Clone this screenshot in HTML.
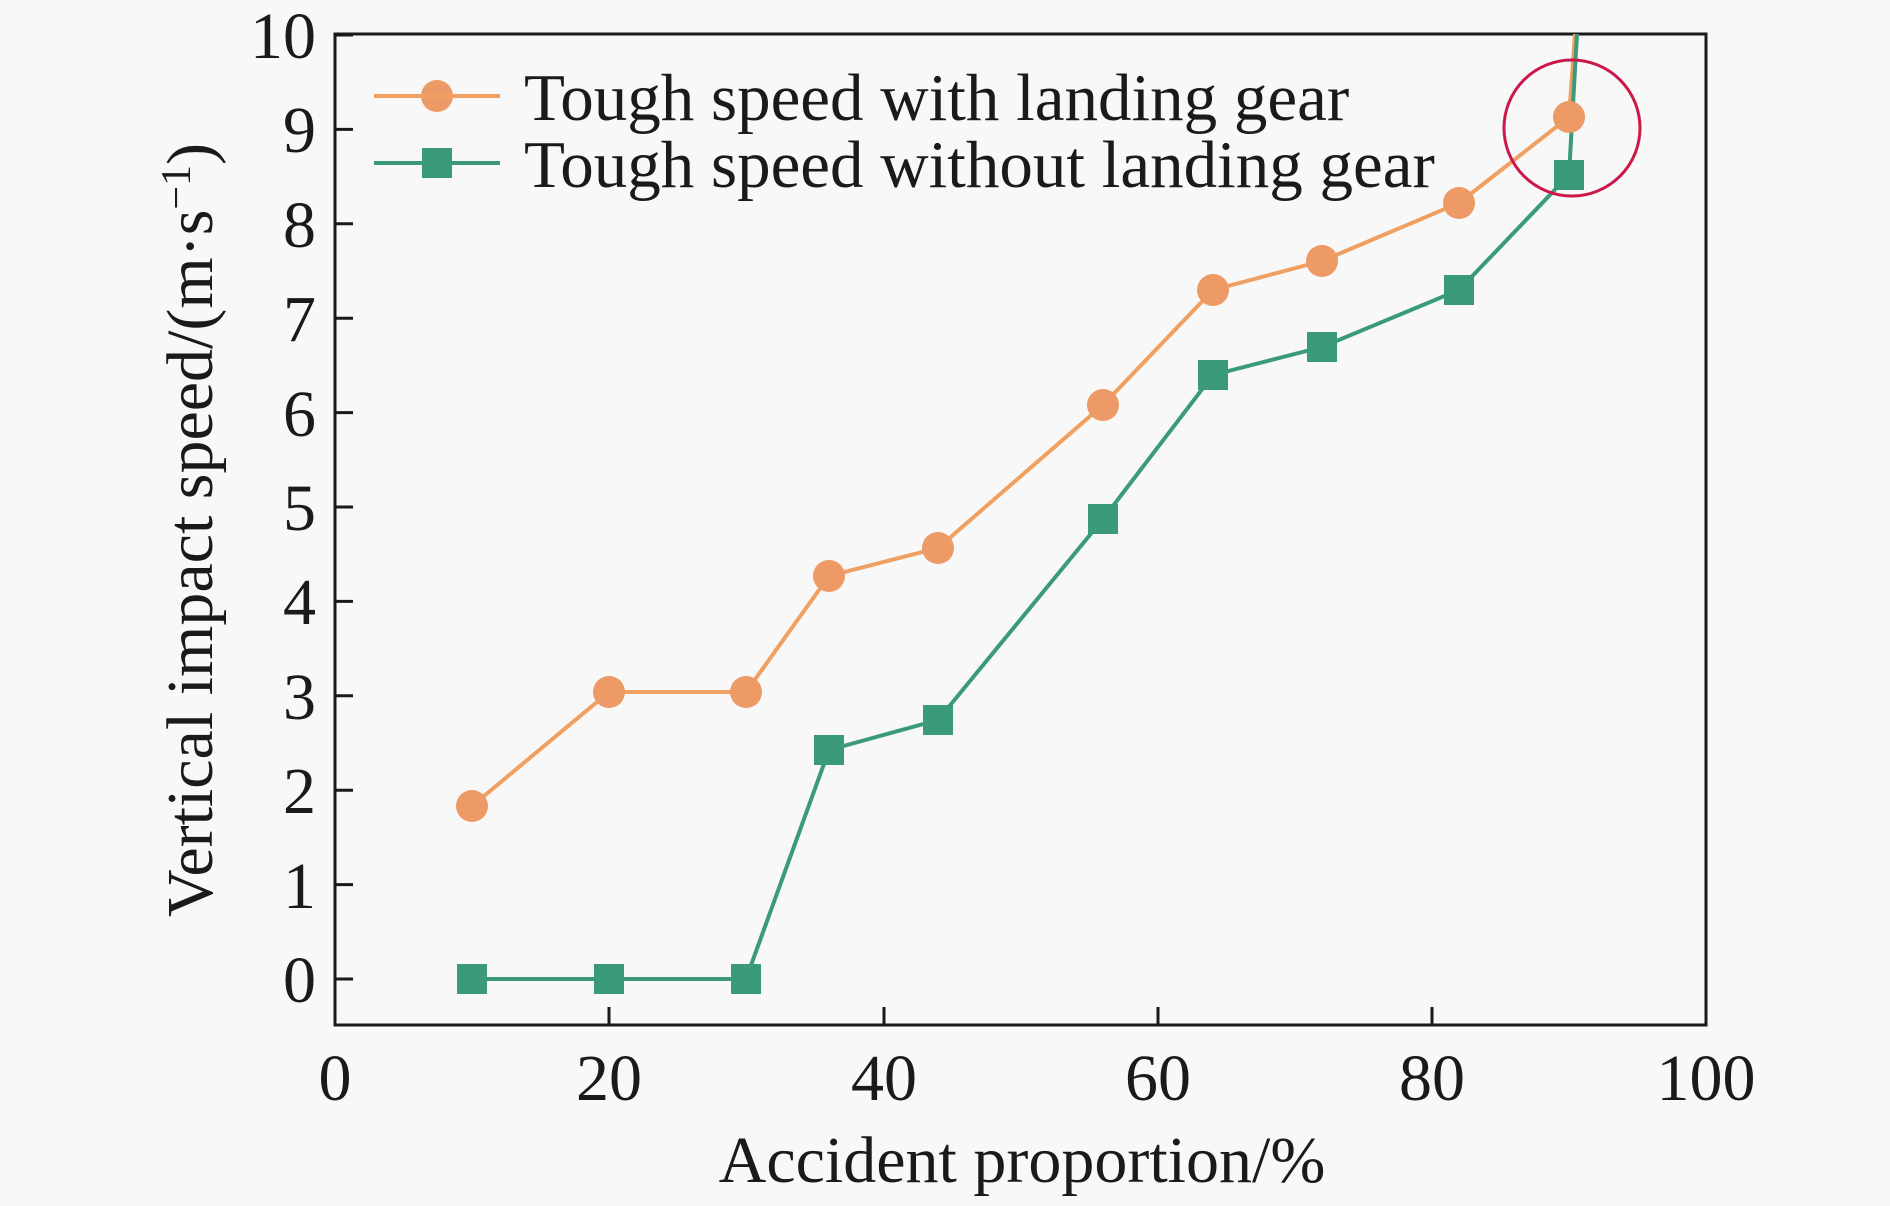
<!DOCTYPE html>
<html><head><style>body{margin:0;background:#f8f8f8}</style></head><body>
<svg width="1890" height="1201" xmlns="http://www.w3.org/2000/svg" font-family="Liberation Serif, serif">
<rect width="1890" height="1201" fill="#f8f8f8"/>
<g stroke="#1a1a1a" stroke-width="3" fill="none">
<rect x="335" y="34" width="1371" height="991"/>
<path d="M335 979h18M335 884.6h18M335 790.2h18M335 695.8h18M335 601.4h18M335 507h18M335 412.6h18M335 318.2h18M335 223.8h18M335 129.4h18M335 35h18"/>
<path d="M609 1025v-18M884 1025v-18M1158 1025v-18M1432 1025v-18"/>
</g>
<g font-size="66" fill="#1a1a1a" text-anchor="end">
<text x="316" y="1002">0</text><text x="316" y="908">1</text><text x="316" y="813">2</text><text x="316" y="719">3</text><text x="316" y="624">4</text><text x="316" y="530">5</text><text x="316" y="436">6</text><text x="316" y="341">7</text><text x="316" y="247">8</text><text x="316" y="152">9</text><text x="316" y="58">10</text>
</g>
<g font-size="66" fill="#1a1a1a" text-anchor="middle">
<text x="335" y="1100">0</text><text x="609" y="1100">20</text><text x="884" y="1100">40</text><text x="1158" y="1100">60</text><text x="1432" y="1100">80</text><text x="1706" y="1100">100</text>
<text x="1022" y="1182" font-size="66">Accident proportion/%</text>
<text transform="translate(212,530) rotate(-90)" font-size="66">Vertical impact speed/(m·s<tspan dy="-22" font-size="42">−1</tspan><tspan dy="22">)</tspan></text>
</g>
<polyline fill="none" stroke="#f0a060" stroke-width="4" points="472,806 609,692 746,692 829,576 938,548 1103,405 1213,290 1322,261 1459,203 1569,117 1575,34"/>
<polyline fill="none" stroke="#3a9a7a" stroke-width="4" points="472,979 609,979 746,979 829,750 938,720 1103,519 1213,375 1322,347 1459,290 1569,175 1577,34"/>
<g fill="#ee9a66">
<circle cx="472" cy="806" r="16"/><circle cx="609" cy="692" r="16"/><circle cx="746" cy="692" r="16"/><circle cx="829" cy="576" r="16"/><circle cx="938" cy="548" r="16"/><circle cx="1103" cy="405" r="16"/><circle cx="1213" cy="290" r="16"/><circle cx="1322" cy="261" r="16"/><circle cx="1459" cy="203" r="16"/><circle cx="1569" cy="117" r="16"/>
<circle cx="437" cy="96" r="16"/>
</g>
<g fill="#3a9a7a">
<rect x="457" y="964" width="30" height="30"/><rect x="594" y="964" width="30" height="30"/><rect x="731" y="964" width="30" height="30"/><rect x="814" y="735" width="30" height="30"/><rect x="923" y="705" width="30" height="30"/><rect x="1088" y="504" width="30" height="30"/><rect x="1198" y="360" width="30" height="30"/><rect x="1307" y="332" width="30" height="30"/><rect x="1444" y="275" width="30" height="30"/><rect x="1554" y="160" width="30" height="30"/>
<rect x="422" y="148" width="30" height="30"/>
</g>
<line x1="374" y1="96" x2="500" y2="96" stroke="#f0a060" stroke-width="4"/>
<line x1="374" y1="163" x2="500" y2="163" stroke="#3a9a7a" stroke-width="4"/>
<g font-size="67" fill="#1a1a1a">
<text x="524" y="120">Tough speed with landing gear</text>
<text x="524" y="187">Tough speed without landing gear</text>
</g>
<circle cx="1572" cy="128" r="68" fill="none" stroke="#cc1848" stroke-width="3"/>
</svg>
</body></html>
